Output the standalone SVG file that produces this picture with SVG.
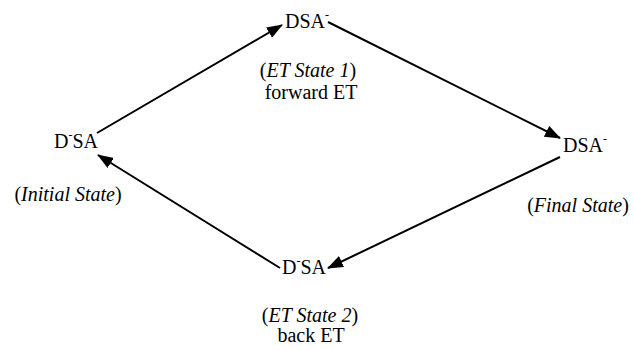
<svg xmlns="http://www.w3.org/2000/svg" width="633" height="350" viewBox="0 0 633 350" font-family="'Liberation Serif', 'DejaVu Serif', serif">
<style>
text{font-family:'Liberation Serif','DejaVu Serif',serif;font-size:20px;fill:#000}
.c{text-anchor:middle}
.i{font-style:italic}
.sup{font-size:12px}
.edge{stroke:#000;stroke-width:2;fill:none;marker-end:url(#ah)}
</style>
<defs>
<marker id="ah" markerWidth="16" markerHeight="12" refX="15" refY="6" orient="auto" markerUnits="userSpaceOnUse">
<path d="M0,0 L16,6 L0,12 Z" fill="#000"/>
</marker>
</defs>
<rect width="633" height="350" fill="#fff"/>
<g id="connectors">
<line class="edge" x1="97" y1="133" x2="282" y2="25"/>
<line class="edge" x1="328" y1="22" x2="560" y2="138"/>
<line class="edge" x1="560" y1="157" x2="328" y2="268"/>
<line class="edge" x1="280" y1="268" x2="98" y2="155"/>
</g>
<g id="node-top">
<text x="285" y="28">DSA<tspan class="sup" dy="-9">-</tspan></text>
<text class="c" x="308" y="77">(<tspan class="i">ET State 1</tspan>)</text>
<text class="c" x="311" y="99">forward ET</text>
</g>
<g id="node-left">
<text x="54" y="148">D<tspan class="sup" dy="-9">-</tspan><tspan dy="9">SA</tspan></text>
<text class="c" x="68" y="201">(<tspan class="i">Initial State</tspan>)</text>
</g>
<g id="node-right">
<text x="563" y="152">DSA<tspan class="sup" dy="-9">-</tspan></text>
<text class="c" x="578" y="212">(<tspan class="i">Final State</tspan>)</text>
</g>
<g id="node-bottom">
<text x="282" y="274">D<tspan class="sup" dy="-9">-</tspan><tspan dy="9">SA</tspan></text>
<text class="c" x="310" y="322">(<tspan class="i">ET State 2</tspan>)</text>
<text class="c" x="311" y="342">back ET</text>
</g>
</svg>
